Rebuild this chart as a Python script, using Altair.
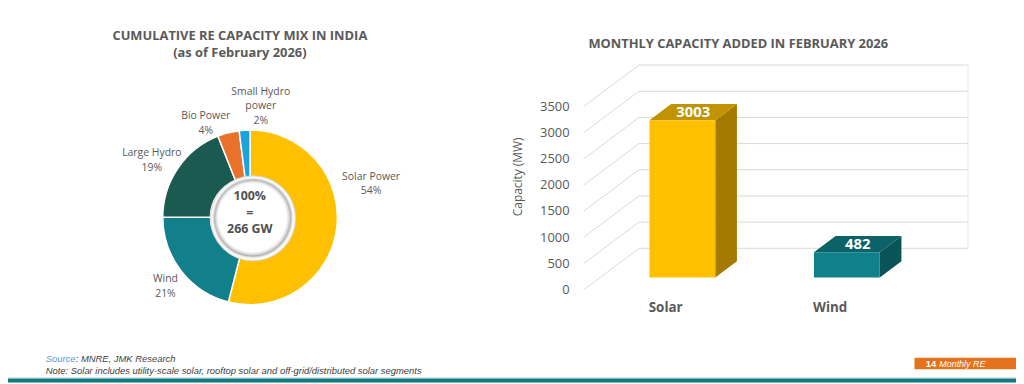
import math
import altair as alt
import pandas as pd

# ---------------- data ----------------
mix_names = ["Solar Power", "Wind", "Large Hydro", "Bio Power", "Small Hydro\npower"]
mix_share = [54, 21, 19, 4, 2]
mix_colors = ["#FFC000", "#12808A", "#1B5A50", "#E8722C", "#1DA2E0"]
mix_total_label = ["100%", "=", "266 GW"]

bar_cats = ["Solar", "Wind"]
bar_vals = [3003, 482]
bar_front = ["#FFC000", "#10808A"]
bar_top = ["#C29300", "#0B6267"]
bar_side = ["#A47A00", "#0A5458"]

y_ticks = [0, 500, 1000, 1500, 2000, 2500, 3000, 3500]

# ---------------- layout / style ----------------
W, H = 1016, 376
FONT = "Open Sans"
GREY = "#595959"
GRID = "#d9d9d9"

# pie geometry (chart px)
CX, CY = 244, 209.5
R_OUT, R_IN = 88, 40
lab_ang = [74.5, 230.7, 300.0, 334.7, 5.5]
lab_rad = [126.6, 110.2, 114.3, 104.6, 112.3]
LH = 14.5

# pseudo-3D bar geometry (data units)
D = 0.3378      # depth in x units
DEP = 795.5     # depth in MW units
F, B = 0.30, 0.69
HW = 0.20

xs = alt.Scale(domain=[0, 2], range=[580, 911.6], nice=False, zero=False)
ys = alt.Scale(domain=[0, 3500], range=[282.7, 98], nice=False, zero=False)


def X(f):
    return alt.X(f, type="quantitative", scale=xs, axis=None)


def Y(f):
    return alt.Y(f, type="quantitative", scale=ys, axis=None, stack=None)


def txt(t, x, y, size, color=GREY, weight="normal", style="normal",
        align="center", font=FONT, angle=0, lh=None):
    kw = {}
    if lh is not None:
        kw = dict(lineBreak="\n", lineHeight=lh)
    return alt.Chart(pd.DataFrame({"t": [t]})).mark_text(
        align=align, baseline="middle", fontSize=size, font=font,
        fontWeight=weight, fontStyle=style, color=color, angle=angle, **kw
    ).encode(x=alt.value(x), y=alt.value(y), text="t:N")


layers = []

# ---------------- 3D grid ----------------
g = pd.DataFrame({"v": y_ticks})
g["x0"] = 0.0
g["x1"] = D
g["vb"] = g["v"] + DEP
g["xr"] = 2 + D
layers.append(alt.Chart(g).mark_rule(color=GRID, strokeWidth=1).encode(
    x=X("x0"), x2="x1", y=Y("v"), y2="vb"))
layers.append(alt.Chart(g).mark_rule(color=GRID, strokeWidth=1).encode(
    x=X("x1"), x2="xr", y=Y("vb")))
edge = pd.DataFrame({"x": [2 + D], "y0": [DEP], "y1": [3500 + DEP]})
layers.append(alt.Chart(edge).mark_rule(color="#e6e6e6", strokeWidth=1).encode(
    x=X("x"), y=Y("y0"), y2="y1"))

# ---------------- 3D bars ----------------
front_rows, side_rows, top_rows, lab_rows = [], [], [], []
for i, (c, v) in enumerate(zip(bar_cats, bar_vals)):
    c0 = i + 0.5
    front_rows.append(dict(cat=c, x=c0 - HW + F * D, x2=c0 + HW + F * D,
                           y=F * DEP, y2=v + F * DEP, col=bar_front[i]))
    for d in (F, B):
        side_rows.append(dict(cat=c, x=c0 + HW + d * D, y=d * DEP,
                              y2=v + d * DEP, col=bar_side[i]))
        top_rows.append(dict(cat=c, y=v + d * DEP, x=c0 - HW + d * D,
                             x2=c0 + HW + d * D, col=bar_top[i]))
    m = (F + B) / 2
    lab_rows.append(dict(cat=c, val=str(v), x=c0 + m * D, y=v + m * DEP,
                         xl=c0, yl=0))

side_df = pd.DataFrame(side_rows)
top_df = pd.DataFrame(top_rows)
front_df = pd.DataFrame(front_rows)
lab_df = pd.DataFrame(lab_rows)

layers.append(alt.Chart(side_df).mark_area(orient="vertical", opacity=1).encode(
    x=X("x"), y=Y("y"), y2="y2", detail="cat:N",
    color=alt.Color("col:N", scale=None)))
layers.append(alt.Chart(top_df).mark_area(orient="horizontal", opacity=1).encode(
    y=Y("y"), x=alt.X("x", type="quantitative", scale=xs, axis=None, stack=None),
    x2="x2", detail="cat:N", color=alt.Color("col:N", scale=None)))
layers.append(alt.Chart(front_df).mark_rect(opacity=1).encode(
    x=X("x"), x2="x2", y=Y("y"), y2="y2",
    color=alt.Color("col:N", scale=None)))
layers.append(alt.Chart(lab_df).mark_text(
    font=FONT, fontSize=15, fontWeight="bold", color="white", baseline="middle"
).encode(x=X("x"), y=Y("y"), text="val:N"))
layers.append(alt.Chart(lab_df).mark_text(
    font=FONT, fontSize=13.5, fontWeight="bold", color=GREY, baseline="middle", dy=18.6
).encode(x=X("xl"), y=Y("yl"), text="cat:N"))

# y tick labels through the y scale
tk = pd.DataFrame({"v": y_ticks, "x": 0.0})
layers.append(alt.Chart(tk).mark_text(
    font=FONT, fontSize=13, color=GREY, align="right", baseline="middle", dx=-14
).encode(x=X("x"), y=Y("v"), text="v:Q"))
layers.append(txt("Capacity (MW)", 513.7, 168.7, 12, angle=270))
layers.append(txt("MONTHLY CAPACITY ADDED IN FEBRUARY 2026", 736, 35.3, 13, weight="bold"))

# ---------------- donut ----------------
pie = pd.DataFrame({"name": mix_names, "share": mix_share, "col": mix_colors,
                    "idx": list(range(len(mix_names)))})
layers.append(alt.Chart(pie).mark_arc(
    radius=R_OUT, radius2=R_IN, stroke="white", strokeWidth=1.5, opacity=1
).encode(
    theta=alt.Theta("share:Q", stack=True),
    order=alt.Order("idx:Q"),
    color=alt.Color("col:N", scale=None),
    x=alt.value(CX), y=alt.value(CY)))

# centre bevel disc
grad = alt.RadialGradient(
    gradient="radial", x1=0.46, y1=0.46, r1=0, x2=0.5, y2=0.5, r2=0.5,
    stops=[alt.GradientStop(color="#ffffff", offset=0),
           alt.GradientStop(color="#ffffff", offset=0.80),
           alt.GradientStop(color="#d8d8d8", offset=0.86),
           alt.GradientStop(color="#b0b0b0", offset=0.89),
           alt.GradientStop(color="#eeeeee", offset=0.93),
           alt.GradientStop(color="#ffffff", offset=0.97),
           alt.GradientStop(color="#d6d6d6", offset=1.0)])
disc = pd.DataFrame({"k": [1]})
layers.append(alt.Chart(disc).mark_arc(
    radius=43, theta=0, theta2=2 * math.pi, fill=grad, stroke="#d6d6d6",
    strokeWidth=0.8, opacity=1
).encode(x=alt.value(CX + 3), y=alt.value(CY + 1)))

layers.append(txt("\n".join(mix_total_label), 243.7, 187.7, 12.5,
                  color="#505050", weight="bold", lh=17))

pl = pd.DataFrame({"lab": [f"{n}\n{s}%" for n, s in zip(mix_names, mix_share)],
                   "a": lab_ang, "r": lab_rad,
                   "nl": [n.count("\n") + 2 for n in mix_names]})
layers.append(alt.Chart(pl).transform_calculate(
    px=f"{CX} + datum.r * sin(datum.a * PI / 180)",
    py=f"{CY} - datum.r * cos(datum.a * PI / 180) - (datum.nl - 1) * {LH} / 2"
).mark_text(font=FONT, fontSize=10.5, color=GREY, align="center",
            baseline="middle", lineBreak="\n", lineHeight=LH).encode(
    x=alt.X("px:Q", scale=None, axis=None),
    y=alt.Y("py:Q", scale=None, axis=None),
    text="lab:N"))

layers.append(txt("CUMULATIVE RE CAPACITY MIX IN INDIA", 233.7, 27, 13, weight="bold"))
layers.append(txt("(as of February 2026)", 233.7, 43.7, 13, weight="bold"))

# ---------------- footer ----------------
FF = "Liberation Sans"
FS = 9.5
layers.append(txt("Source", 38, 352.7, FS, color="#5B9BD5", style="italic", align="left", font=FF))
layers.append(txt(": MNRE, JMK Research", 68.2, 352.7, FS, color="#404040", style="italic", align="left", font=FF))
layers.append(txt("Note: Solar includes utility-scale solar, rooftop solar and off-grid/distributed solar segments",
                  38, 364.7, FS, color="#404040", style="italic", align="left", font=FF))

box = pd.DataFrame({"k": [1]})
layers.append(alt.Chart(box).mark_rect(color="#E5731E", opacity=1).encode(
    x=alt.value(913.7), x2=alt.value(1016), y=alt.value(351), y2=alt.value(362.7)))
layers.append(txt("14", 925, 357, 9.5, color="white", weight="bold", align="left", font=FF))
layers.append(txt("Monthly RE", 938.7, 357, 9, color="white", style="italic", align="left", font=FF))
layers.append(alt.Chart(box).mark_rect(color="#e3e3e3", opacity=1).encode(
    x=alt.value(0), x2=alt.value(1016), y=alt.value(370.5), y2=alt.value(372)))
layers.append(alt.Chart(box).mark_rect(color="#0F7A80", opacity=1).encode(
    x=alt.value(0), x2=alt.value(1016), y=alt.value(372), y2=alt.value(376)))

chart = alt.layer(*layers).properties(
    width=W, height=H, padding=0, autosize=alt.AutoSizeParams(type="none"),
    background="white"
).configure_view(stroke=None)

chart.save("out.html", embed_options={"renderer": "svg", "actions": False})
